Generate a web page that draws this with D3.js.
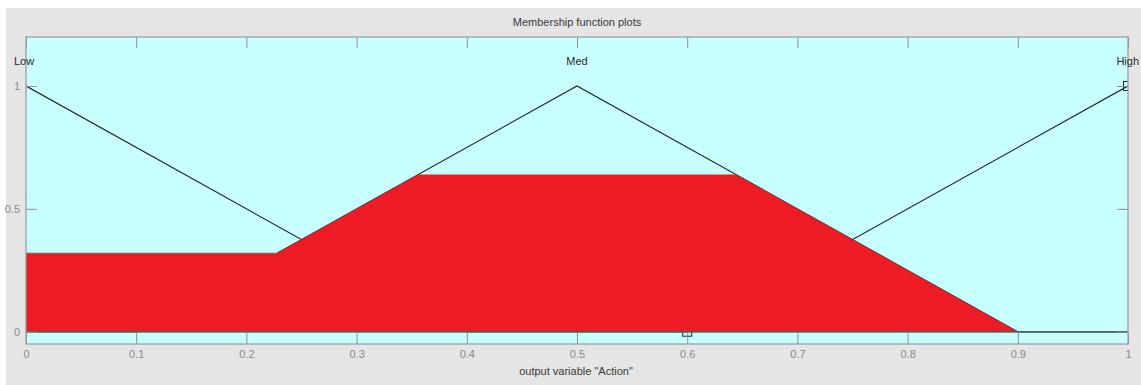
<!DOCTYPE html>
<html><head><meta charset="utf-8">
<script src="https://cdn.jsdelivr.net/npm/d3@7"></script>
<style>body{margin:0;background:#fff}svg{display:block}text{font-family:"Liberation Sans",Arial,sans-serif}</style>
</head><body><svg id="c" width="1141" height="385"></svg>
<script>
// Data
const mfNames = ["Low", "Med", "High"];
const mfParams = [[-0.4, 0, 0.4], [0.1, 0.5, 0.9], [0.6, 1, 1.4]];
const aggX = [0, 0.228, 0.356, 0.644, 0.9, 1];
const aggY = [0.32, 0.32, 0.64, 0.64, 0, 0];
const xTicks = [0, 0.1, 0.2, 0.3, 0.4, 0.5, 0.6, 0.7, 0.8, 0.9, 1];
const yTicks = [0, 0.5, 1];
const title = "Membership function plots";
const xLabel = 'output variable "Action"';
const selectedMf = 2;

const svg = d3.select("#c");
svg.append("rect").attr("x", 6).attr("y", 8).attr("width", 1135).attr("height", 377).attr("fill", "#e5e5e5");

const L = 26, R = 1128, T = 37, B = 344;
const x = d3.scaleLinear().domain([0, 1]).range([L, R]);
const y = d3.scaleLinear().domain([0, 1]).range([331.7, 86]);

svg.append("rect").attr("x", L).attr("y", T).attr("width", R - L).attr("height", B - T).attr("fill", "#c8ffff");
svg.append("defs").append("clipPath").attr("id", "clip").append("rect")
  .attr("x", L).attr("y", T).attr("width", R - L).attr("height", B - T);

const g = svg.append("g").attr("clip-path", "url(#clip)");

// MF lines
const tri = p => [[p[0], 0], [p[1], 1], [p[2], 0]];
const line = d3.line().x(d => x(d[0])).y(d => y(d[1]));
mfParams.forEach((p, i) => {
  const pts = [[Math.min(p[0], 0) - 1, 0], ...tri(p), [Math.max(p[2], 1) + 1, 0]];
  g.append("path").attr("d", line(pts)).attr("fill", "none").attr("stroke", "#1e2a2a").attr("stroke-width", 1.1);
});
// selected MF markers
tri(mfParams[selectedMf]).filter(d => d[0] >= 0 && d[0] <= 1).forEach(d => {
  g.append("rect").attr("x", x(d[0]) - 4.5).attr("y", y(d[1]) - 4.5).attr("width", 9).attr("height", 9)
    .attr("fill", "none").attr("stroke", "#1e2a2a").attr("stroke-width", 1);
});

// aggregated output
const agg = aggX.map((v, i) => [v, aggY[i]]);
const area = d3.area().x(d => x(d[0])).y0(y(0)).y1(d => y(d[1]));
g.append("path").attr("d", area(agg)).attr("fill", "#ed1c24").attr("stroke", "none");
g.append("path").attr("d", line(agg.slice(0, 2))).attr("fill", "none").attr("stroke", "#6a8a8a").attr("stroke-width", 0.8);
g.append("path").attr("d", line([[0, 0], [1, 0]])).attr("fill", "none").attr("stroke", "#4f5f5f").attr("stroke-width", 1.6);

// axes
const tickCol = "#8f8f8f";
const xb = svg.append("g").attr("transform", `translate(0,${B})`)
  .call(d3.axisBottom(x).tickValues(xTicks).tickSize(-11).tickPadding(6).tickFormat(d3.format("")));
const xt = svg.append("g").attr("transform", `translate(0,${T})`)
  .call(d3.axisTop(x).tickValues(xTicks).tickSize(-11).tickFormat(""));
const yl = svg.append("g").attr("transform", `translate(${L},0)`)
  .call(d3.axisLeft(y).tickValues(yTicks).tickSize(-11).tickPadding(6).tickFormat(d3.format("")));
const yr = svg.append("g").attr("transform", `translate(${R},0)`)
  .call(d3.axisRight(y).tickValues(yTicks).tickSize(-11).tickFormat(""));
[xb, xt, yl, yr].forEach(a => {
  a.select(".domain").remove();
  a.selectAll("line").attr("stroke", tickCol);
  a.selectAll("text").attr("fill", "#8a8a8a").attr("font-size", 11);
});
svg.append("rect").attr("x", L).attr("y", T).attr("width", R - L).attr("height", B - T)
  .attr("fill", "none").attr("stroke", "#9a9a9a").attr("stroke-width", 1.2);

// labels
svg.append("text").attr("x", 577).attr("y", 26).attr("text-anchor", "middle").attr("font-size", 11).attr("fill", "#3a3a3a").text(title);
svg.append("text").attr("x", 576).attr("y", 375).attr("text-anchor", "middle").attr("font-size", 11).attr("fill", "#3a3a3a").text(xLabel);
mfNames.forEach((n, i) => {
  const cx = Math.max(L - 1, Math.min(R, x(mfParams[i][1])));
  svg.append("text").attr("x", cx).attr("y", 65).attr("text-anchor", i === 0 ? "start" : (i === 2 ? "end" : "middle"))
    .attr("dx", i === 0 ? -12 : (i === 2 ? 11 : 0))
    .attr("font-size", 11).attr("fill", "#2a2a2a").text(n);
});
</script></body></html>
